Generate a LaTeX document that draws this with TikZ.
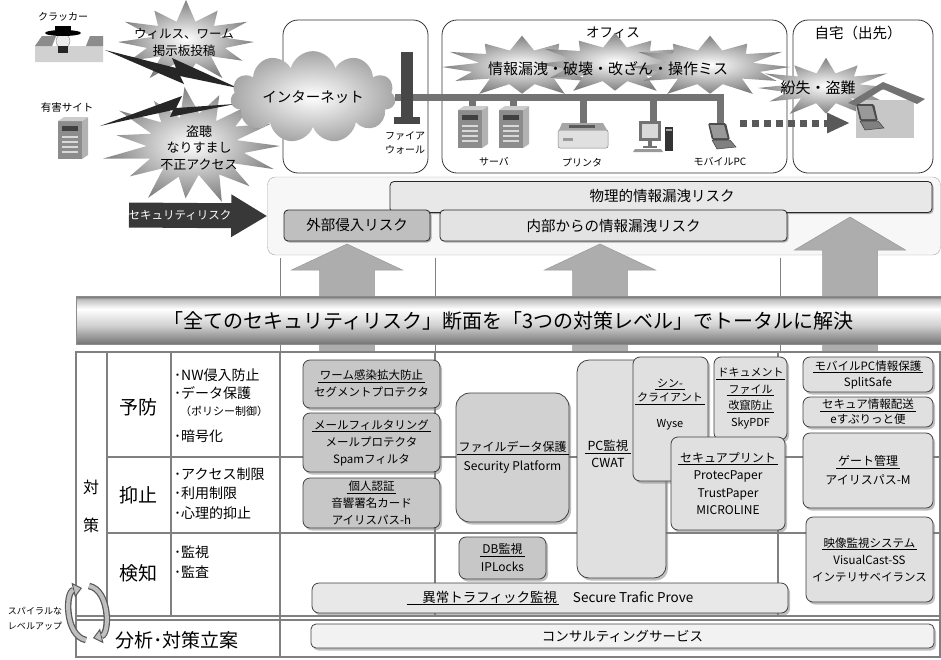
\documentclass[tikz,border=0pt]{standalone}
\usepackage{fontspec}
\setmainfont{Noto Sans CJK JP}
\usetikzlibrary{shapes.symbols,shadows,arrows.meta}

\newcommand\fs[2]{\fontsize{#1}{#2}\selectfont}
\newcommand\ttl[1]{\underline{\,#1\,}}

% metallic look of the slogan bar
\pgfdeclareverticalshading{metal}{100bp}{color(0bp)=(black!55); color(25bp)=(black!55);
  color(45bp)=(black!18); color(62bp)=(white); color(72bp)=(black!25);
  color(75bp)=(black!55); color(100bp)=(black!55)}

% spiky burst: cx, cy, rx, ry, half step angle, inner ratio
\newcommand\burst[6]{%
  \shade[inner color=white, outer color=black!50]
    plot[variable=\t, samples at={0,#5,...,360}]
    ({#1+#3*(1-(1-#6)*mod(round(\t/#5),2))*(1+.08*sin(7*\t))*cos(\t)},
     {#2+#4*(1-(1-#6)*mod(round(\t/#5),2))*(1+.08*sin(7*\t))*sin(\t)}) -- cycle;}

\tikzset{
  zone/.style={draw=black!80, line width=.8pt, rounded corners=15pt},
  riskbox/.style={draw=black!85, line width=.8pt, rounded corners=4pt, font=\fs{14.5}{17},
    drop shadow={shadow xshift=1.5pt, shadow yshift=-1.5pt, fill=black!60, opacity=.5}},
  prod/.style={draw=black!75, line width=.8pt, rounded corners=7pt, fill=black!22,
    align=center, inner sep=0pt, font=\fs{11.5}{17},
    drop shadow={shadow xshift=2pt, shadow yshift=-2.5pt, fill=black!50, opacity=.5}},
  prodl/.style={prod, fill=black!12},
  txt/.style={align=center, inner sep=0pt},
  bul/.style={anchor=west, inner sep=0pt, font=\fs{14}{16}},
  tblline/.style={draw=black!50, line width=1.5pt},
  netline/.style={draw=black!55, line width=7pt},
  bolt/.style={fill=black!85},
  arr/.style={fill=black!32, draw=black!40, line width=.5pt},
  spiralout/.style={line width=6.5pt, black!65, -{Triangle[length=9pt,width=15pt,fill=black!25,line width=1pt]}},
  spiralin/.style={line width=4pt, black!25, shorten >=9pt},
  server/.pic={
    \fill[black!45] (-14,-18) rectangle (10,20);
    \fill[black!30] (10,-18) -- (16,-22) -- (16,16) -- (10,20) -- cycle;
    \fill[black!20] (-14,-18) -- (-8,-22) -- (16,-22) -- (10,-18) -- cycle;
    \fill[black!75] (-10,-13) rectangle (6,-8);
    \foreach \s in {-3,2,7,12} \fill[black!15] (-10,\s) rectangle (6,\s+2);
  },
  printer/.pic={
    \fill[black!12, draw=black!50, line width=.5pt, rounded corners=2pt] (-25,-6) rectangle (25,12);
    \fill[black!35] (-21,-13) -- (20,-13) -- (24,-6) -- (-24,-6) -- cycle;
    \fill[black!65] (-14,-11) rectangle (12,-8);
    \fill[black!40] (-20,2) rectangle (-10,5);
  },
  desktop/.pic={
    \fill[black!55] (-18,-16) rectangle (4,4);
    \fill[black!15] (-15,-13) rectangle (1,1);
    \fill[black!55] (-9,4) rectangle (-5,9);
    \fill[black!55] (-14,9) rectangle (0,11);
    \fill[black!40] (-22,12) -- (4,12) -- (6,15) -- (-24,15) -- cycle;
    \fill[black!80] (8,-10) rectangle (16,14);
    \fill[black!35] (9,-8) rectangle (15,-6);
  },
  laptop/.pic={
    \fill[black!70, rounded corners=1.5pt] (-12,-14) -- (6,-14) -- (10,3) -- (-8,3) -- cycle;
    \fill[black!40] (-10,-12) -- (4,-12) -- (7.5,1) -- (-6.5,1) -- cycle;
    \fill[black!50, draw=black!75, line width=.5pt] (-8,3) -- (10,3) -- (16,10) -- (-3,12) -- cycle;
  }
}

\begin{document}
\begin{tikzpicture}[x=1pt,y=-1pt]
\useasboundingbox (0,0) rectangle (941,659);

% places
\node[zone, minimum width=145pt, minimum height=153pt] (fwzone) at (355.5,96.5) {};
\node[zone, minimum width=345pt, minimum height=153pt] (office) at (614.5,96.5) {};
\node[zone, minimum width=140pt, minimum height=153pt] (home) at (863,96.5) {};
\node[txt, font=\fs{13.5}{15}] (officelbl) at (613,33) {オフィス};
\node[txt, font=\fs{14.5}{16}] (homelbl) at (858,33) {自宅（出先）};

% threats
\burst{186}{42}{68}{39}{15}{.55}
\burst{194}{146}{86}{56}{12}{.55}
\burst{522}{67}{80}{29}{15}{.6}
\burst{615}{64}{78}{29}{15}{.6}
\burst{710}{67}{80}{29}{15}{.6}
\burst{826}{88}{68}{28}{15}{.55}
\node[txt, font=\fs{12.5}{17}] (virus) at (184,42) {ウィルス、ワーム\\掲示板投稿};
\node[txt, font=\fs{13}{16.5}] (sniff) at (199,148) {盗聴\\なりすまし\\不正アクセス};
\node[txt, font=\fs{15}{17}] (leak) at (608,69) {情報漏洩・破壊・改ざん・操作ミス};
\node[txt, font=\fs{15}{17}] (loss) at (818,88) {紛失・盗難};

% attackers
\node[txt, font=\fs{10}{12}] (crklbl) at (63,17) {クラッカー};
\fill[black!18] (35,46) -- (42,36) -- (56,36) -- (52,46) -- (86,46) -- (90,36) -- (103,36) -- (103,62) -- (35,62) -- cycle;
\fill[black!45] (35,46) -- (42,36) -- (56,36) -- (52,46) -- cycle;
\fill[black!45] (86,46) -- (90,36) -- (103,36) -- (103,46) -- cycle;
\fill[black!8, draw=black!50] (63,41) circle (7);
\fill[black] (63,33) ellipse (18 and 3);
\fill[black] (55,26) rectangle (71,33);
\fill[black!85] (58,46) rectangle (68,53);
\coordinate (crk) at (69,48);
\node[txt, font=\fs{10.5}{12}] (sitelbl) at (67,108) {有害サイト};
\pic at (72,139) {server};
\coordinate (site) at (80,139);

\fill[bolt] (105,50) -- (176,68) -- (172,58) -- (238,88) -- (180,76) -- (184,84) -- cycle;
\fill[bolt] (100,126) -- (182,96) -- (176,108) -- (235,104) -- (170,117) -- (173,110) -- cycle;

\node[cloud, cloud puffs=11, aspect=2.5, minimum width=165pt, minimum height=68pt,
  inner color=white, outer color=black!35, font=\fs{14.5}{17}] (net) at (313,97) {インターネット};

% office network
\coordinate (srv1) at (472,110);
\coordinate (srv2) at (513,110);
\coordinate (prn) at (583,124);
\coordinate (pc) at (653,124);
\coordinate (mob) at (720,124);
\draw[netline] (net.east) -| (mob);
\foreach \d in {srv1,srv2,prn,pc} \draw[netline] (\d) -- (\d |- net.east);
\node[fill=black!72, minimum width=12pt, minimum height=68pt, inner sep=0pt] (fw) at (407,86) {};
\node[fill=black!72, minimum width=26pt, minimum height=7pt, inner sep=0pt] (fwbase) at (407,120.5) {};
\node[txt, font=\fs{10}{14}] (fwlbl) at (405,143) {ファイア\\ウォール};

\pic at (472,128) {server};
\pic at (513,128) {server};
\pic at (583,136) {printer};
\pic at (657,137) {desktop};
\pic at (720,137) {laptop};
\node[txt, font=\fs{10}{12}] (srvlbl) at (494,162) {サーバ};
\node[txt, font=\fs{10}{12}] (prnlbl) at (582,163) {プリンタ};
\node[txt, font=\fs{10}{12}] (moblbl) at (720,162) {モバイルPC};

% home
\fill[black!22] (856,100) rectangle (914,138);
\fill[black!55] (848,103) -- (883,82) -- (925,99) -- (917,104) -- (883,89) -- (856,106) -- cycle;
\pic at (868,118) {laptop};
\coordinate (mobr) at (740,123);
\coordinate (homel) at (850,123);
\draw[line width=7pt, black!65, dash pattern=on 7pt off 5pt, -{Triangle[length=23pt,width=19pt]}] (mobr) -- (homel);

% risks
\node[draw=black!35, fill=black!3, rounded corners=8pt, minimum width=673pt, minimum height=78pt] (riskarea) at (604,216) {};
\node[riskbox, fill=black!9, minimum width=542pt, minimum height=31pt] (phys) at (661,197) {};
\node[txt, font=\fs{14.5}{17}] (physlbl) at (662,196) {物理的情報漏洩リスク};
\node[riskbox, fill=black!25, minimum width=146pt, minimum height=31pt] (ext) at (357,225.5) {外部侵入リスク};
\node[riskbox, fill=black!11, minimum width=347pt, minimum height=31pt] (int) at (613.5,225.5) {内部からの情報漏洩リスク};
\coordinate (rsk) at (129,215);
\draw[line width=25pt, black!78, -{Triangle[length=36pt,width=40pt]}] (rsk) -- (riskarea.west);
\node[txt, text=white, font=\fs{11.5}{14}] (rsklbl) at (180,215) {セキュリティリスク};

% column guides and rising arrows
\foreach \x in {280,435,780} \draw[black!50, line width=.8pt] (\x,258) -- (\x,352);
\foreach \ax/\tip/\hb in {347/244/270, 600/244/270, 850/217/250}
  \filldraw[arr] (\ax,\tip) -- (\ax+55.5,\hb) -- (\ax+27.5,\hb) -- (\ax+27.5,352)
    -- (\ax-27.5,352) -- (\ax-27.5,\hb) -- (\ax-55.5,\hb) -- cycle;

\node[shade, shading=metal, draw=black!45, minimum width=865pt, minimum height=48pt,
  font=\fs{20}{24}] (banner) at (508.5,320.5) {「全てのセキュリティリスク」断面を「3つの対策レベル」でトータルに解決};

% measures table
\draw[tblline] (76,352) rectangle (940,657);
\foreach \x in {107,171,435,778} \draw[tblline] (\x,352) -- (\x,616);
\draw[tblline] (280,352) -- (280,657);
\foreach \y in {457,533} \draw[tblline] (107,\y) -- (940,\y);
\draw[tblline] (76,616) -- (940,616);
\draw[tblline] (76,620) -- (940,620);

\node[txt, font=\fs{16}{18}] (tai) at (91,487) {対};
\node[txt, font=\fs{16}{18}] (saku) at (91,525) {策};
\node[txt, font=\fs{19}{21}] (yobo) at (138,407) {予防};
\node[txt, font=\fs{19}{21}] (yokushi) at (138,495) {抑止};
\node[txt, font=\fs{19}{21}] (kenchi) at (138,573) {検知};
\node[bul] (nw) at (174,375) {･NW侵入防止};
\node[bul] (data) at (174,393) {･データ保護};
\node[bul, font=\fs{11}{13}] (policy) at (180,411) {（ポリシー制御）};
\node[bul] (crypt) at (174,436) {･暗号化};
\node[bul] (acc) at (174,474) {･アクセス制限};
\node[bul] (use) at (174,493) {･利用制限};
\node[bul] (psy) at (174,513) {･心理的抑止};
\node[bul] (mon) at (174,552) {･監視};
\node[bul] (aud) at (174,572) {･監査};
\node[txt, font=\fs{19}{21}] (plan) at (177,640) {分析･対策立案};

% spiral level-up loop
\node[txt, font=\fs{9}{15}] (spiral) at (35,619) {スパイラルな\\レベルアップ};
\draw[spiralout] (86,640) .. controls (65,636) and (65,592) .. (82,588);
\draw[spiralin] (86,640) .. controls (65,636) and (65,592) .. (82,588);
\draw[spiralout] (89,586) .. controls (110,590) and (110,634) .. (93,638);
\draw[spiralin] (89,586) .. controls (110,590) and (110,634) .. (93,638);

% products
\node[prod, minimum width=137pt, minimum height=48pt] (worm) at (371.5,384) {\ttl{ワーム感染拡大防止}\\セグメントプロテクタ};
\node[prod, minimum width=137pt, minimum height=59pt] (mail) at (371.5,442.5) {\ttl{メールフィルタリング}\\メールプロテクタ\\Spamフィルタ};
\node[prod, minimum width=137pt, minimum height=50pt] (auth) at (371.5,503) {\ttl{個人認証}\\音響署名カード\\アイリスパス-h};
\node[prod, fill=black!18, rounded corners=14pt, minimum width=113pt, minimum height=129pt, font=\fs{12}{19}] (file) at (512.5,457.5) {\ttl{ファイルデータ保護}\\Security Platform};
\node[prod, minimum width=87pt, minimum height=42pt, font=\fs{12}{18}] (db) at (502.5,558) {\ttl{DB監視}\\IPLocks};
\node[prodl, rounded corners=12pt, minimum width=89pt, minimum height=218pt] (pcw) at (621.5,469) {};
\node[txt, font=\fs{12.5}{17}] (pcwlbl) at (608,454) {\ttl{PC監視}\\CWAT};
\node[prodl, minimum width=75pt, minimum height=124pt] (thin) at (670.5,419) {};
\node[txt, font=\fs{11}{14}] (thinlbl) at (670,405) {\ttl{シン-}\\\ttl{クライアント}\\[12pt]Wyse};
\node[prodl, minimum width=73pt, minimum height=83pt, font=\fs{11}{16.5}] (doc) at (750.5,398.5) {\ttl{ドキュメント}\\\ttl{ファイル}\\\ttl{改竄防止}\\SkyPDF};
\node[prodl, minimum width=114pt, minimum height=93pt, font=\fs{12}{17.5}] (sprint) at (728,483.5) {\ttl{セキュアプリント}\\ProtecPaper\\TrustPaper\\MICROLINE};
\node[prodl, minimum width=130pt, minimum height=35pt, font=\fs{11.5}{16}] (mpc) at (868,374.5) {\ttl{モバイルPC情報保護}\\SplitSafe};
\node[prodl, minimum width=130pt, minimum height=30pt, font=\fs{11.5}{15}] (eship) at (868,412) {\ttl{セキュア情報配送}\\eすぷりっと便};
\node[prodl, minimum width=130pt, minimum height=75pt, font=\fs{12}{19}] (gate) at (868,470.5) {\ttl{ゲート管理}\\アイリスパス-M};
\node[prodl, minimum width=127pt, minimum height=85pt] (video) at (869.5,559.5) {\ttl{映像監視システム}\\VisualCast-SS\\インテリサベイランス};
\node[prodl, fill=black!9, minimum width=476pt, minimum height=30pt, font=\fs{13.5}{16}] (traffic) at (550,598) {\ttl{\quad 異常トラフィック監視}\quad Secure Trafic Prove};
\node[prodl, fill=black!5, rounded corners=5pt, minimum width=623pt, minimum height=24pt, font=\fs{13.5}{16}] (consult) at (622.5,636) {コンサルティングサービス};

\end{tikzpicture}
\end{document}
